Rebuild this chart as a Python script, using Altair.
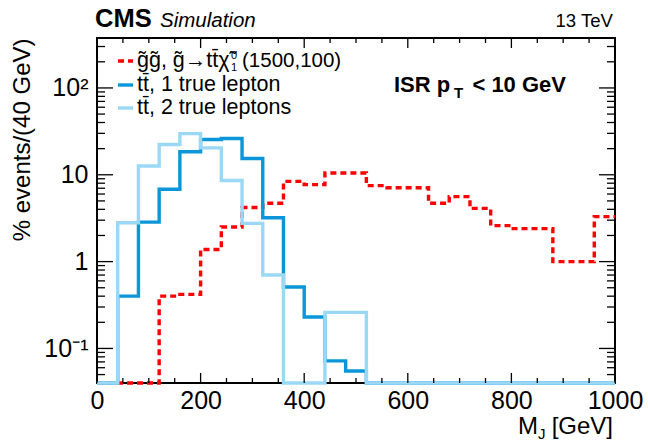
import altair as alt
import pandas as pd

# --- histogram contents (% events per 40 GeV bin, M_J from 0 to 1000 GeV) ---
BIN_EDGES = list(range(0, 1001, 40))

signal_vals = [0, 0, 0, 0.40, 0.42, 1.38, 2.5, 4.2, 4.7, 8.4, 7.7, 10.5, 10.5,
               7.5, 7.1, 7.1, 4.7, 5.6, 4.1, 2.6, 2.4, 2.4, 1.0, 1.0, 3.3]
tt1_vals = [0, 0.40, 2.85, 6.8, 18.4, 25.5, 26.2, 15.4, 3.2, 0.51, 0.23, 0.072, 0.055,
            0, 0, 0, 0, 0, 0, 0, 0, 0, 0, 0, 0]
tt2_vals = [0, 2.8, 12.6, 22.3, 29.8, 20.4, 8.6, 2.76, 0.70, 0, 0, 0.26, 0.26,
            0, 0, 0, 0, 0, 0, 0, 0, 0, 0, 0, 0]

series_colors = {"signal": "#ff0000", "tt1": "#0a96d8", "tt2": "#9ad8f6"}

# axis ranges and ticks
X_MIN, X_MAX = 0, 1000
Y_MIN, Y_MAX = 0.04, 376
x_major = [0, 200, 400, 600, 800, 1000]
x_minor = [v for v in range(0, 1001, 50) if v % 200 != 0]
y_major = [0.1, 1, 10, 100]
y_minor = [0.05, 0.06, 0.07, 0.08, 0.09] + \
          [m * 10.0 ** e for e in (-1, 0, 1) for m in range(2, 10)] + [200, 300]

W, H = 518, 345
FONT = "Liberation Sans"


def step_frame(vals, name):
    """Histogram outline points: bin low edges plus the closing upper edge."""
    xs = BIN_EDGES[:-1] + [BIN_EDGES[-1]]
    ys = list(vals) + [vals[-1]]
    ys = [max(v, Y_MIN) for v in ys]  # empty bins sit on the lower frame
    return pd.DataFrame({"mj": xs, "pct": ys, "series": name})


xscale = alt.Scale(domain=[X_MIN, X_MAX], nice=False, zero=False)
yscale = alt.Scale(type="log", domain=[Y_MIN, Y_MAX], nice=False)

x_axis = alt.Axis(values=x_major, format="d", ticks=False, domain=False, grid=False,
                  labelFont=FONT, labelFontSize=25, labelPadding=5, labelColor="black",
                  labelFlush=False, labelOverlap=False, title=None)
y_axis = alt.Axis(values=y_major, ticks=False, domain=False, grid=False,
                  labelFont=FONT, labelFontSize=25, labelPadding=9, labelColor="black",
                  labelOverlap=False,
                  labelExpr="datum.value > 50 ? '10²' : datum.value > 5 ? '10' : "
                            "datum.value > 0.5 ? '1' : '10⁻¹'",
                  title="% events/(40 GeV)", titleFont=FONT, titleFontSize=24,
                  titleFontWeight="normal", titleColor="black", titleAngle=270,
                  titleAlign="right", titleBaseline="middle", titleX=-75, titleY=0)

X_ENC = alt.X("mj:Q", scale=xscale, axis=x_axis)
Y_ENC = alt.Y("pct:Q", scale=yscale, axis=y_axis)


def hist_layer(vals, name, dash=None):
    kw = dict(interpolate="step-after", strokeWidth=3.4, color=series_colors[name],
              clip=False)
    if dash:
        kw["strokeDash"] = dash
    return alt.Chart(step_frame(vals, name)).mark_line(**kw).encode(x=X_ENC, y=Y_ENC)


layers = [
    hist_layer(signal_vals, "signal", dash=[6, 4]),
    hist_layer(tt1_vals, "tt1"),
    hist_layer(tt2_vals, "tt2"),
]

# inward ticks on all four sides of the frame
xt_major = pd.DataFrame({"mj": x_major})
xt_minor = pd.DataFrame({"mj": x_minor})
yt_major = pd.DataFrame({"pct": y_major})
yt_minor = pd.DataFrame({"pct": y_minor})
tick_kw = dict(color="black", strokeWidth=1.3)
for df, length in ((xt_major, 10), (xt_minor, 5)):
    layers.append(alt.Chart(df).mark_rule(**tick_kw).encode(
        x=X_ENC, y=alt.value(H), y2=alt.value(H - length)))
    layers.append(alt.Chart(df).mark_rule(**tick_kw).encode(
        x=X_ENC, y=alt.value(0), y2=alt.value(length)))
for df, length in ((yt_major, 16), (yt_minor, 8)):
    layers.append(alt.Chart(df).mark_rule(**tick_kw).encode(
        y=Y_ENC, x=alt.value(0), x2=alt.value(length)))
    layers.append(alt.Chart(df).mark_rule(**tick_kw).encode(
        y=Y_ENC, x=alt.value(W), x2=alt.value(W - length)))


def label(text, x, y, size, weight="normal", style="normal", align="left"):
    return alt.Chart(pd.DataFrame({"t": [text]})).mark_text(
        font=FONT, fontSize=size, fontWeight=weight, fontStyle=style, align=align,
        baseline="alphabetic", color="black", clip=False
    ).encode(text="t:N", x=alt.value(x), y=alt.value(y))


# header
layers.append(label("CMS", -2, -11, 25.5, weight="bold"))
layers.append(label("Simulation", 63, -11, 20.5, style="italic"))
layers.append(label("13 TeV", 516, -11, 18.6, align="right"))

# x-axis title  M_J [GeV]
layers.append(label("M", 421, 396, 24))
layers.append(label("J", 441, 401, 15))
layers.append(label("[GeV]", 516, 396, 24, align="right"))

# selection label
layers.append(label("ISR p", 297, 54, 22, weight="bold"))
layers.append(label("T", 357, 60, 15, weight="bold"))
layers.append(label("< 10 GeV", 469, 54, 22, weight="bold", align="right"))

# legend
LEG_TEXT_X = 40
legend_rows = [
    ("signal", 23, [6, 4]),
    ("tt1", 47, None),
    ("tt2", 70, None),
]
for name, ly, dash in legend_rows:
    kw = dict(color=series_colors[name], strokeWidth=3.4)
    if dash:
        kw["strokeDash"] = dash
    layers.append(alt.Chart(pd.DataFrame({"s": [name]})).mark_rule(**kw).encode(
        x=alt.value(21), x2=alt.value(36), y=alt.value(ly)))

layers.append(label("g̃g̃, g̃→tt̄χ̃", LEG_TEXT_X, 29, 21.5))
layers.append(label("0", 134, 21, 11))
layers.append(label("1", 134, 33, 11))
layers.append(label("(1500,100)", 145, 29, 20.5))
layers.append(label("tt̄, 1 true lepton", LEG_TEXT_X, 53, 21.5))
layers.append(label("tt̄, 2 true leptons", LEG_TEXT_X, 76, 21.5))

chart = alt.layer(*layers).properties(
    width=W, height=H,
    autosize=alt.AutoSizeParams(type="none"),
    padding={"left": 97, "top": 38, "right": 33, "bottom": 60},
    background="white",
).configure_view(stroke="black", strokeWidth=2)

chart.save("out.html", embed_options={"renderer": "svg", "actions": False})
